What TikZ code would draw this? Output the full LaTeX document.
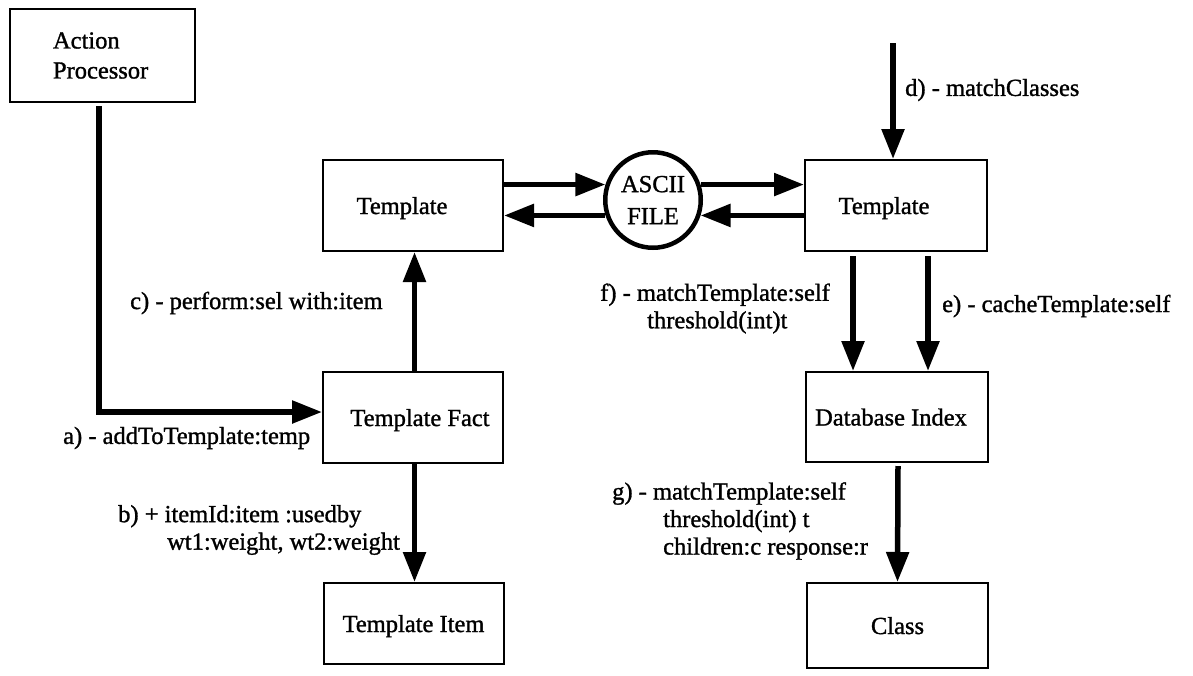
\documentclass[tikz,border=0pt]{standalone}
\usepackage{fontspec}
\setmainfont{Liberation Serif}[RawFeature={embolden=1.2}]
\usetikzlibrary{arrows.meta}
\begin{document}
\begin{tikzpicture}[x=1pt,y=-1pt,
  box/.style={draw=black,line width=2pt,minimum width=180pt,minimum height=91pt,inner sep=0pt,font=\fontsize{24.5}{30}\selectfont},
  onel/.style={text height=20pt,text depth=3pt},
  arr/.style={line width=5.5pt,-{Triangle[length=30pt,width=22pt]}},
  lbl/.style={anchor=west,inner sep=0pt,align=left,font=\fontsize{24.5}{27.5}\selectfont}]
\fill[white] (0,0) rectangle (1193,675);
\useasboundingbox (0,0) rectangle (1193,675);

% boxes
\node[box,minimum width=185pt,minimum height=93pt,text width=99pt,align=left] (ap) at (102.5,55.5) {Action\\Processor};
\node[box,onel] (tl) at (413,205.5) {Template\hspace*{22pt}};
\node[box,onel,minimum width=182pt] (tr) at (896,205.5) {Template\hspace*{24pt}};
\node[circle,draw,line width=4.5pt,minimum size=95.5pt,inner sep=0pt,align=center,font=\fontsize{24.5}{32}\selectfont] (circ) at (653,200) {ASCII\\FILE};
\node[box,onel] (tf) at (413,417.5) {\hspace*{14pt}Template Fact};
\node[box,onel,minimum height=81pt] (ti) at (413.5,623.5) {Template Item};
\node[box,onel,minimum width=182pt,minimum height=90pt] (di) at (897,417) {Database Index\hspace*{12pt}};
\node[box,onel,minimum width=181pt,minimum height=85pt] (cl) at (897.5,625.5) {Class};

% connectors
\draw[arr] ([xshift=-3.5pt,yshift=-3pt]ap.south) |- ([yshift=5.5pt]tf.west);
\draw[arr] ([xshift=1.5pt]tf.north) -- ([xshift=1.5pt]tl.south);
\draw[arr] ([xshift=1.5pt]tf.south) -- ([xshift=1pt]ti.north);
\draw[arr] (tl.east |- circ.162) -- (circ.162);
\draw[arr] (circ.198) -- (tl.east |- circ.198);
\draw[arr] (circ.18) -- (tr.west |- circ.18);
\draw[arr] (tr.west |- circ.-18) -- (circ.-18);
\coordinate (dtop) at (893,43);
\draw[arr] (dtop) -- (dtop |- tr.north);
\draw[arr] ([xshift=-43pt,yshift=-4pt]tr.south) -- ([xshift=-44pt]di.north);
\draw[arr] ([xshift=32pt,yshift=-4pt]tr.south) -- ([xshift=31pt]di.north);
\draw[arr] ([xshift=1pt,yshift=-3pt]di.south) -- (cl.north);

% labels
\node[lbl] (la) at (63,438) {a) - addToTemplate:temp};
\node[lbl] (lb) at (118,530) {b) + itemId:item :usedby\\\hspace*{49pt}wt1:weight, wt2:weight};
\node[lbl] (lc) at (130,303) {c) - perform:sel with:item};
\node[lbl] (ld) at (905,90) {d) - matchClasses};
\node[lbl] (lf) at (600,308.5) {f) - matchTemplate:self\\\hspace*{47pt}threshold(int)t};
\node[lbl] (le) at (942,306) {e) - cacheTemplate:self};
\node[lbl] (lg) at (612,521) {g) - matchTemplate:self\\\hspace*{51pt}threshold(int) t\\\hspace*{51pt}children:c response:r};
\end{tikzpicture}
\end{document}
